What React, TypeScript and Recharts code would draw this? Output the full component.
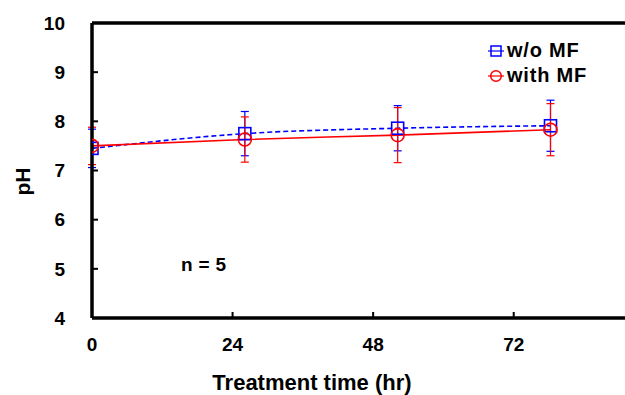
import { LineChart, Line, XAxis, YAxis, ErrorBar, Legend, Label } from 'recharts';

const FONT = '"Liberation Sans", Arial, sans-serif';

const hours = [0, 24, 48, 72];
const phWithoutMF = [7.45, 7.75, 7.86, 7.91];
const errWithoutMF = [0.39, 0.45, 0.46, 0.52];
const phWithMF = [7.5, 7.63, 7.72, 7.83];
const errWithMF = [0.38, 0.46, 0.56, 0.53];
const xTicks = [0, 24, 48, 72];
const yTicks = [4, 5, 6, 7, 8, 9, 10];

const data = hours.map((h, i) => ({
  hour: h,
  wo: phWithoutMF[i],
  woErr: errWithoutMF[i],
  withMF: phWithMF[i],
  withErr: errWithMF[i],
}));

const SquareDot = (props: any) => {
  const { cx, cy } = props;
  if (cx == null || cy == null) return null;
  return <rect x={cx - 6} y={cy - 6} width={12} height={12} fill="none" stroke="#0000ff" strokeWidth={1.6} />;
};

const CircleDot = (props: any) => {
  const { cx, cy } = props;
  if (cx == null || cy == null) return null;
  return <circle cx={cx} cy={cy} r={6.5} fill="none" stroke="#ff0000" strokeWidth={1.6} />;
};

const LegendBox = (props: any) => {
  const items = props.payload || [];
  return (
    <div style={{ fontFamily: FONT, fontWeight: 'bold', fontSize: 20, letterSpacing: 0.8, color: '#000' }}>
      {items.map((it: any) => (
        <div key={it.value} style={{ display: 'flex', alignItems: 'center', height: 25 }}>
          <svg width={16} height={14} style={{ marginRight: 3 }}>
            <line x1={0} y1={7} x2={16} y2={7} stroke={it.color} strokeWidth={1.2} />
            {it.dataKey === 'wo' ? (
              <rect x={3} y={2} width={10} height={10} fill="none" stroke={it.color} strokeWidth={1.5} />
            ) : (
              <circle cx={8} cy={7} r={5.3} fill="none" stroke={it.color} strokeWidth={1.5} />
            )}
          </svg>
          <span>{it.value}</span>
        </div>
      ))}
    </div>
  );
};

const YTitle = (props: any) => {
  const { viewBox } = props;
  const cx = viewBox.x + 22;
  const cy = viewBox.y + viewBox.height / 2 + 11;
  return (
    <text x={cx} y={cy} transform={`rotate(-90 ${cx} ${cy})`} textAnchor="middle" dominantBaseline="central"
      fontFamily={FONT} fontWeight="bold" fontSize={21} fill="#000">pH</text>
  );
};

const XTitle = (props: any) => {
  const { viewBox } = props;
  return (
    <text x={viewBox.x + 220} y={viewBox.y + 72} textAnchor="middle"
      fontFamily={FONT} fontWeight="bold" fontSize={22} fill="#000">Treatment time (hr)</text>
  );
};

const tickStyle = { fill: '#000', fontFamily: FONT, fontWeight: 'bold', fontSize: 19 };
const axisStyle = { stroke: '#000', strokeWidth: 3.5 };
const tickLineStyle = { stroke: '#000', strokeWidth: 2 };

export default function App() {
  return (
    <div style={{ position: 'absolute', left: 0, top: 0, width: 625, height: 395, background: '#fff' }}>
      <LineChart width={625} height={395} data={data} margin={{ top: 22, right: 0, bottom: 0, left: 0 }}>
        <XAxis xAxisId="data" dataKey="hour" type="number" domain={[0, 83.7]} allowDataOverflow height={0} hide />
        <XAxis xAxisId="ticks" dataKey="hour" type="number" domain={[0, 91]} allowDataOverflow ticks={xTicks}
          height={77} tick={tickStyle} tickSize={-6} tickMargin={26} axisLine={axisStyle}
          tickLine={tickLineStyle} interval={0}>
          <Label content={<XTitle />} />
        </XAxis>
        <XAxis xAxisId="top" dataKey="hour" orientation="top" type="number" domain={[0, 91]} allowDataOverflow
          height={1} tick={false} tickLine={false} axisLine={axisStyle} />
        <YAxis type="number" domain={[4, 10]} ticks={yTicks} width={92} tick={tickStyle} tickSize={-6}
          tickMargin={33} axisLine={axisStyle} tickLine={tickLineStyle} interval={0}>
          <Label content={<YTitle />} />
        </YAxis>
        <Legend content={<LegendBox />} layout="horizontal" verticalAlign="middle" align="center"
          wrapperStyle={{ position: 'absolute', top: 38, left: 488, width: 'auto' }} />
        <Line xAxisId="data" type="monotone" dataKey="wo" name="w/o MF" stroke="#0000ff" strokeWidth={1.6}
          strokeDasharray="5 3" dot={<SquareDot />} activeDot={false} isAnimationActive={false}>
          <ErrorBar dataKey="woErr" width={4} stroke="#0000ff" strokeWidth={1.2} direction="y" isAnimationActive={false} />
        </Line>
        <Line xAxisId="data" type="monotone" dataKey="withMF" name="with MF" stroke="#ff0000" strokeWidth={1.6}
          dot={<CircleDot />} activeDot={false} isAnimationActive={false}>
          <ErrorBar dataKey="withErr" width={4} stroke="#ff0000" strokeWidth={1.2} direction="y" isAnimationActive={false} />
        </Line>
      </LineChart>
      <div style={{ position: 'absolute', left: 181, top: 256, fontFamily: FONT, fontWeight: 'bold', fontSize: 19,
        lineHeight: '18px', letterSpacing: 0.3, color: '#000' }}>n = 5</div>
    </div>
  );
}
